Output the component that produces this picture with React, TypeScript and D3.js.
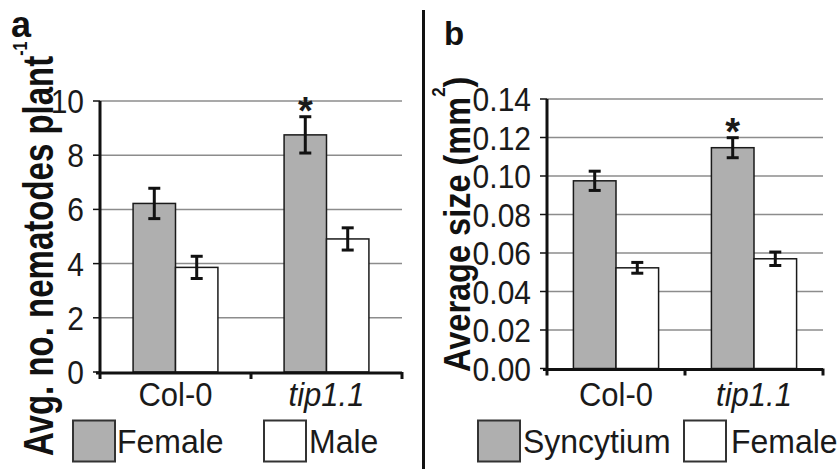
import React from "react";
import * as d3 from "d3";

const categories = ["Col-0", "tip1.1"];
const significant = [false, true];

// Panel a: Avg. no. nematodes per plant
const seriesA = ["Female", "Male"];
const femaleA = [6.22, 8.75];
const femaleAErr = [0.56, 0.67];
const maleA = [3.86, 4.91];
const maleAErr = [0.41, 0.41];
const ticksA = [0, 2, 4, 6, 8, 10];

// Panel b: Average size (mm2)
const seriesB = ["Syncytium", "Female"];
const syncytiumB = [0.0975, 0.1147];
const syncytiumBErr = [0.005, 0.0052];
const femaleB = [0.0523, 0.057];
const femaleBErr = [0.0028, 0.0035];
const ticksB = [0, 0.02, 0.04, 0.06, 0.08, 0.1, 0.12, 0.14];

const FONT = "'Liberation Sans', Arial, Helvetica, sans-serif";
const BAR_FILL = "#afafaf";

type PanelProps = {
  x0: number;
  x1: number;
  yBottom: number;
  yTop: number;
  yMax: number;
  ticks: number[];
  fmt: (v: number) => string;
  series: string[];
  values: number[][];
  errors: number[][];
  outerPad: number;
  legend: { boxX: number; textX: number }[];
};

function Panel(p: PanelProps) {
  const y = d3.scaleLinear().domain([0, p.yMax]).range([p.yBottom, p.yTop]);
  const xc = d3.scaleBand<string>().domain(categories).range([p.x0, p.x1]).padding(0);
  const xs = d3
    .scaleBand<string>()
    .domain(p.series)
    .range([0, xc.bandwidth()])
    .paddingInner(0)
    .paddingOuter(p.outerPad);
  const bw = xs.bandwidth();
  const capW = 12;
  return (
    <g>
      {p.ticks.slice(1).map((t) => (
        <line key={"g" + t} x1={p.x0} x2={p.x1} y1={y(t)} y2={y(t)} stroke="#8c8c8c" strokeWidth={1.5} />
      ))}
      {p.ticks.map((t) => (
        <g key={"t" + t}>
          <line x1={p.x0 - 7} x2={p.x0} y1={y(t)} y2={y(t)} stroke="#111" strokeWidth={1.5} />
          <text
            transform={`translate(${p.x0 - 16},${y(t)}) scale(1,1.12)`}
            dy="0.36em"
            textAnchor="end"
            fontFamily={FONT}
            fontSize={30}
            fill="#1a1a1a"
          >
            {p.fmt(t)}
          </text>
        </g>
      ))}
      {categories.map((c, ci) =>
        p.series.map((s, si) => {
          const v = p.values[si][ci];
          const e = p.errors[si][ci];
          const bx = (xc(c) as number) + (xs(s) as number);
          const cx = bx + bw / 2;
          return (
            <g key={c + s}>
              <rect
                x={bx}
                y={y(v)}
                width={bw}
                height={y(0) - y(v)}
                fill={si === 0 ? BAR_FILL : "#ffffff"}
                stroke="#1a1a1a"
                strokeWidth={1.5}
              />
              <line x1={cx} x2={cx} y1={y(v + e)} y2={y(v - e)} stroke="#111" strokeWidth={3} />
              <line x1={cx - capW / 2} x2={cx + capW / 2} y1={y(v + e)} y2={y(v + e)} stroke="#111" strokeWidth={3} />
              <line x1={cx - capW / 2} x2={cx + capW / 2} y1={y(v - e)} y2={y(v - e)} stroke="#111" strokeWidth={3} />
              {si === 0 && significant[ci] ? (
                <text
                  x={cx}
                  y={y(v + e) + 7}
                  textAnchor="middle"
                  fontFamily={FONT}
                  fontWeight="bold"
                  fontSize={38}
                  fill="#1a1a1a"
                >
                  *
                </text>
              ) : null}
            </g>
          );
        })
      )}
      <line x1={p.x0} x2={p.x0} y1={p.yTop} y2={p.yBottom + 1.5} stroke="#111" strokeWidth={3} />
      <line x1={p.x0 - 4} x2={p.x1} y1={p.yBottom + 1} y2={p.yBottom + 1} stroke="#111" strokeWidth={3} />
      {[p.x0, ...categories.map((c) => (xc(c) as number) + xc.bandwidth())].map((tx, i) => (
        <line key={"xt" + i} x1={tx} x2={tx} y1={p.yBottom} y2={p.yBottom + 7} stroke="#111" strokeWidth={3} />
      ))}
      {categories.map((c, ci) => (
        <text
          key={"cl" + c}
          transform={`translate(${(xc(c) as number) + xc.bandwidth() / 2},406) scale(1,1.08)`}
          textAnchor="middle"
          fontFamily={FONT}
          fontSize={31}
          fontStyle={ci === 1 ? "italic" : "normal"}
          fill="#1a1a1a"
        >
          {c}
        </text>
      ))}
      {p.series.map((s, si) => (
        <g key={"lg" + s}>
          <rect
            x={p.legend[si].boxX}
            y={420.5}
            width={42}
            height={41}
            fill={si === 0 ? BAR_FILL : "#ffffff"}
            stroke="#333"
            strokeWidth={2}
          />
          <text transform={`translate(${p.legend[si].textX},453) scale(1,1.05)`} fontFamily={FONT} fontSize={32} fill="#1a1a1a">
            {s}
          </text>
        </g>
      ))}
    </g>
  );
}

export default function App() {
  return (
    <svg
      width={839}
      height={469}
      style={{ position: "absolute", left: 0, top: 0, background: "#fff" }}
    >
      <rect x={0} y={0} width={839} height={469} fill="#ffffff" />
      <Panel
        x0={100}
        x1={402}
        yBottom={372}
        yTop={101}
        yMax={10}
        ticks={ticksA}
        fmt={(v) => d3.format("d")(v)}
        series={seriesA}
        values={[femaleA, maleA]}
        errors={[femaleAErr, maleAErr]}
        outerPad={0.78}
        legend={[
          { boxX: 73, textX: 117 },
          { boxX: 264, textX: 309 },
        ]}
      />
      <Panel
        x0={547}
        x1={823}
        yBottom={368.5}
        yTop={99}
        yMax={0.14}
        ticks={ticksB}
        fmt={(v) => d3.format(".2f")(v)}
        series={seriesB}
        values={[syncytiumB, femaleB]}
        errors={[syncytiumBErr, femaleBErr]}
        outerPad={0.62}
        legend={[
          { boxX: 478, textX: 523 },
          { boxX: 684, textX: 731 },
        ]}
      />
      <text x={11} y={37} fontFamily={FONT} fontWeight="bold" fontSize={36} fill="#111">
        a
      </text>
      <text x={444} y={45} fontFamily={FONT} fontWeight="bold" fontSize={33} fill="#111">
        b
      </text>
      <line x1={423.5} x2={423.5} y1={10} y2={469} stroke="#111" strokeWidth={3} />
      <g transform="translate(53,456) rotate(-90) scale(1,1.28)">
        <text x={0} y={0} fontFamily={FONT} fontWeight="bold" fontSize={33} fill="#111">
          Avg. no. nematodes plant
          <tspan fontSize={16} dy={-20}>
            -1
          </tspan>
        </text>
      </g>
      <g transform="translate(470,372) rotate(-90) scale(1,1.12)">
        <text x={0} y={0} fontFamily={FONT} fontWeight="bold" fontSize={32.5} fill="#111">
          Average size (mm
          <tspan fontSize={17} dy={-22}>
            2
          </tspan>
          <tspan dy={22}>)</tspan>
        </text>
      </g>
    </svg>
  );
}
